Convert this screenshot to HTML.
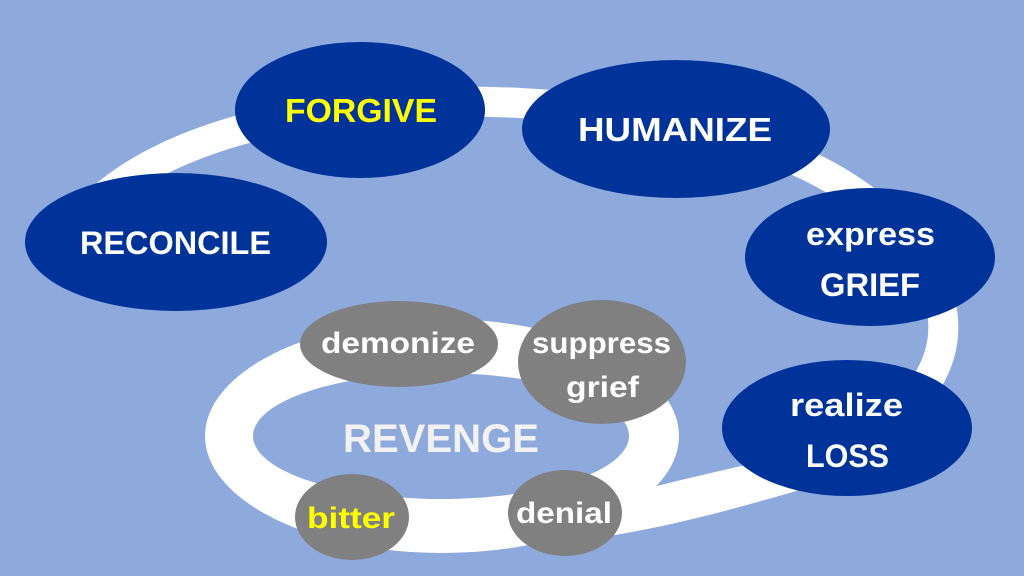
<!DOCTYPE html>
<html><head><meta charset="utf-8"><style>
html,body{margin:0;padding:0;background:#8eaadc;}
svg{display:block}
text{font-family:"Liberation Sans",sans-serif;font-weight:bold;}
</style></head><body>
<svg width="1024" height="576" viewBox="0 0 1024 576" xmlns="http://www.w3.org/2000/svg">
<rect width="1024" height="576" fill="#8eaadc"/>
<!-- big arc -->
<path d="M 100 200 C 190 120, 370 95, 520 103 C 700 112, 850 160, 915 250 C 965 320, 950 390, 860 440" fill="none" stroke="#fff" stroke-width="30"/>
<!-- tail -->
<path d="M 800 452 C 760 462, 700 475, 653 487 L 640 470 L 600 500 L 580 540 C 660 530, 730 510, 800 490 Z" fill="#fff"/>
<!-- small loop -->
<ellipse cx="442" cy="436" rx="237" ry="117" fill="#fff"/>
<ellipse cx="441" cy="436" rx="188" ry="63" fill="#8eaadc"/>
<text x="343" y="452" font-size="40" fill="#f2f2f2" textLength="196" lengthAdjust="spacingAndGlyphs">REVENGE</text>
<!-- blue nodes -->
<g fill="#003399">
<ellipse cx="360" cy="110" rx="125" ry="68"/>
<ellipse cx="676" cy="129" rx="154" ry="69"/>
<ellipse cx="176" cy="242" rx="151" ry="69"/>
<ellipse cx="870" cy="257" rx="125" ry="69"/>
<ellipse cx="847" cy="428" rx="125" ry="68"/>
</g>
<text x="285" y="122" font-size="33" fill="#ffff00" textLength="152" lengthAdjust="spacingAndGlyphs">FORGIVE</text>
<text x="578" y="141" font-size="33" fill="#fff" textLength="194" lengthAdjust="spacingAndGlyphs">HUMANIZE</text>
<text x="80" y="254" font-size="32" fill="#fff" textLength="191" lengthAdjust="spacingAndGlyphs">RECONCILE</text>
<text x="806" y="245" font-size="32" fill="#fff" textLength="129" lengthAdjust="spacingAndGlyphs">express</text>
<text x="820" y="296" font-size="32" fill="#fff" textLength="100" lengthAdjust="spacingAndGlyphs">GRIEF</text>
<text x="790" y="416" font-size="32" fill="#fff" textLength="113" lengthAdjust="spacingAndGlyphs">realize</text>
<text x="806" y="467" font-size="32" fill="#fff" textLength="83" lengthAdjust="spacingAndGlyphs">LOSS</text>
<!-- gray nodes -->
<g fill="#808080">
<ellipse cx="399" cy="344" rx="99" ry="43"/>
<ellipse cx="602" cy="362" rx="84" ry="62"/>
<ellipse cx="352" cy="517" rx="57" ry="43"/>
<ellipse cx="565" cy="513" rx="57" ry="43"/>
</g>
<text x="321" y="353" font-size="30" fill="#fff" textLength="154" lengthAdjust="spacingAndGlyphs">demonize</text>
<text x="532" y="353" font-size="30" fill="#fff" textLength="139" lengthAdjust="spacingAndGlyphs">suppress</text>
<text x="566" y="397" font-size="30" fill="#fff" textLength="73" lengthAdjust="spacingAndGlyphs">grief</text>
<text x="307" y="528" font-size="30" fill="#ffff00" textLength="88" lengthAdjust="spacingAndGlyphs">bitter</text>
<text x="516" y="523" font-size="30" fill="#fff" textLength="96" lengthAdjust="spacingAndGlyphs">denial</text>
</svg>
</body></html>
